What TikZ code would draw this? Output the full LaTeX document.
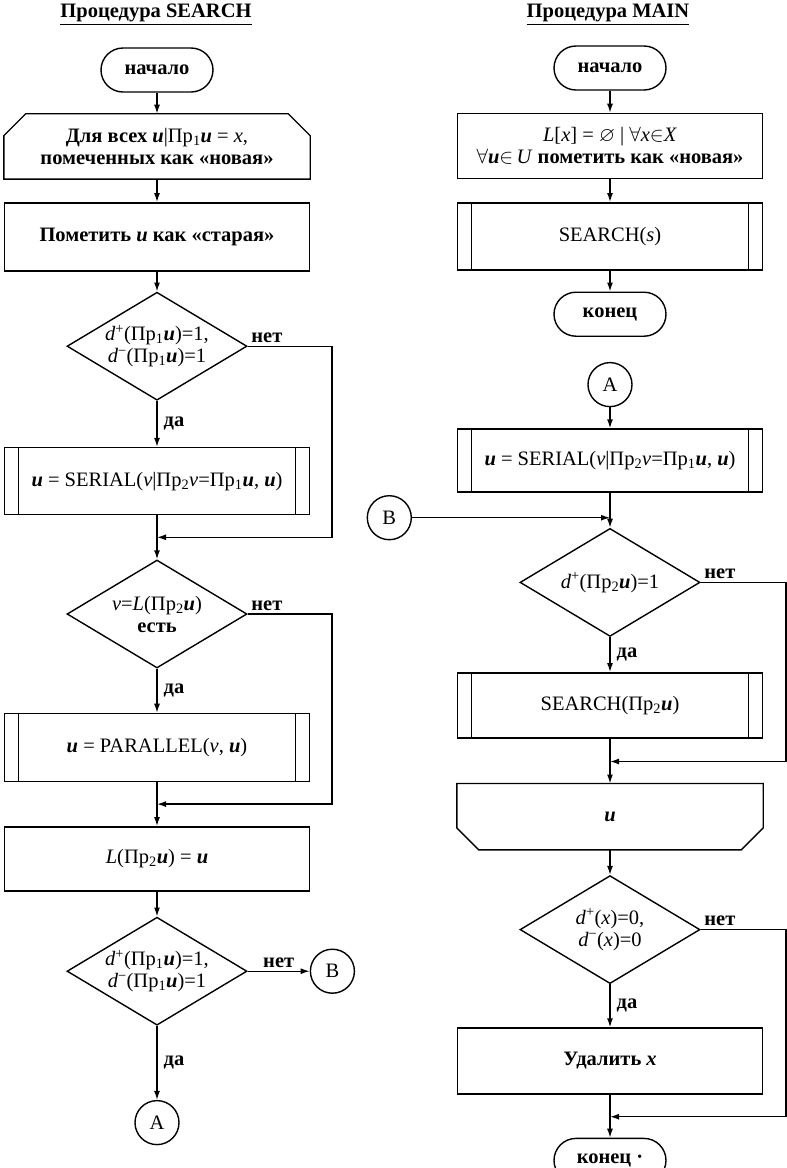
\documentclass[tikz,border=0pt]{standalone}
\usepackage{fontspec}
\setmainfont{Liberation Serif}
\usepackage{amssymb}
\usetikzlibrary{positioning,shapes.geometric,arrows.meta}
\newcommand{\vu}{\textbf{\textit{u}}}
\newcommand{\pr}[1]{Пр\textsubscript{#1}}

\begin{document}
\begin{tikzpicture}[x=1pt,y=-1pt,line width=1.4pt,
font=\fontsize{20.5}{22}\selectfont,
box/.style={draw,rectangle,minimum width=305pt,align=center,inner sep=0pt},
sub/.style={box,path picture={\draw ([xshift=14pt]path picture bounding box.north west) -- ([xshift=14pt]path picture bounding box.south west)
 ([xshift=-14pt]path picture bounding box.north east) -- ([xshift=-14pt]path picture bounding box.south east);}},
term/.style={draw,rectangle,rounded corners=22pt,minimum width=112pt,minimum height=44pt,font=\fontsize{20.5}{22}\selectfont\bfseries},
cond/.style={draw,diamond,aspect=1.67,minimum width=180pt,minimum height=108pt,inner sep=0pt,align=center},
conn/.style={draw,circle,minimum size=44pt,inner sep=0pt},
lbl/.style={font=\fontsize{20.5}{22}\selectfont\bfseries,inner sep=3pt},
arr/.style={-{Latex[length=9pt,width=6pt]}}]
\useasboundingbox (0,0) rectangle (787,1168);
\node[font=\fontsize{20.5}{22}\selectfont\bfseries] (t1) at (156,15) {\underline{Процедура SEARCH}};
\node[term] (s0) at (157,70) {начало};
\node[box,draw=none,minimum height=64pt,below=21pt of s0] (s1) {\textbf{Для всех} \vu|\pr{1}\vu\ = \textit{x},\\ \textbf{помеченных как «новая»}};
\node[box,minimum height=68pt,below=23pt of s1] (s2) {\textbf{Пометить} \vu\ \textbf{как «старая»}};
\node[cond,below=20pt of s2] (s3) {\textit{d}\textsuperscript{+}(\pr{1}\vu)=1,\\ \textit{d}\textsuperscript{−}(\pr{1}\vu)=1};
\node[sub,minimum height=67pt,below=46pt of s3] (s4) {\vu\ = SERIAL(\textit{v}|\pr{2}\textit{v}=\pr{1}\vu, \vu)};
\coordinate[below=22pt of s4] (j1);
\coordinate[right=175pt of j1] (e1);
\node[cond,below=44pt of s4] (s5) {\textit{v}=\textit{L}(\pr{2}\vu)\\ \textbf{есть}};
\node[sub,minimum height=68pt,below=44pt of s5] (s6) {\vu\ = PARALLEL(\textit{v}, \vu)};
\coordinate[below=22pt of s6] (j2);
\coordinate[right=175pt of j2] (e2);
\node[box,minimum height=64pt,below=44pt of s6] (s7) {\textit{L}(\pr{2}\vu) = \vu};
\node[cond,below=25pt of s7] (s8) {\textit{d}\textsuperscript{+}(\pr{1}\vu)=1,\\ \textit{d}\textsuperscript{−}(\pr{1}\vu)=1};
\node[conn,below=74pt of s8] (la) {A};
\node[conn,right=62pt of s8] (lb) {B};
\node[font=\fontsize{20.5}{22}\selectfont\bfseries] (t2) at (608,15) {\underline{Процедура MAIN}};
\node[term] (m0) at (610,68) {начало};
\node[box,minimum height=65pt,below=22pt of m0] (m1) {\textit{L}[\textit{x}] = $\varnothing$ | $\forall$\textit{x}$\in$\textit{X}\\ $\forall$\vu$\in$\,\textit{U} \textbf{пометить как «новая»}};
\node[sub,minimum height=67pt,below=23pt of m1] (m2) {SEARCH(\textit{s})};
\node[term,below=21pt of m2] (m3) {конец};
\node[conn,below=25pt of m3] (ra) {A};
\node[sub,minimum height=63pt,below=21pt of ra] (m4) {\vu\ = SERIAL(\textit{v}|\pr{2}\textit{v}=\pr{1}\vu, \vu)};
\coordinate[below=25pt of m4] (j3);
\node[conn,left=198pt of j3] (rb) {B};
\node[cond,below=35pt of m4] (m5) {\textit{d}\textsuperscript{+}(\pr{2}\vu)=1};
\node[sub,minimum height=65pt,below=35pt of m5] (m6) {SEARCH(\pr{2}\vu)};
\coordinate[below=23pt of m6] (j4);
\coordinate[right=176pt of j4] (e3);
\node[box,draw=none,minimum height=65pt,below=45pt of m6] (m7) {\vu};
\node[cond,below=25pt of m7] (m8) {\textit{d}\textsuperscript{+}(\textit{x})=0,\\ \textit{d}\textsuperscript{−}(\textit{x})=0};
\node[box,minimum height=66pt,below=43pt of m8] (m9) {\textbf{Удалить \textit{x}}};
\coordinate[below=22pt of m9] (j5);
\coordinate[right=176pt of j5] (e4);
\node[term,below=43pt of m9] (m10) {конец ·};
\draw (s1.south west) -- ([yshift=-22pt]s1.north west) -- ([xshift=22pt]s1.north west) -- ([xshift=-22pt]s1.north east)
 -- ([yshift=-22pt]s1.north east) -- (s1.south east) -- cycle;
\draw (m7.north west) -- (m7.north east) -- ([yshift=22pt]m7.south east) -- ([xshift=-22pt]m7.south east)
 -- ([xshift=22pt]m7.south west) -- ([yshift=22pt]m7.south west) -- cycle;
\foreach \a/\b in {s0/s1,s1/s2,s2/s3,s4/s5,s6/s7,s7/s8,m0/m1,m1/m2,m2/m3,ra/m4,m4/m5,m6/m7,m7/m8,m9/m10}
 \draw[arr] (\a) -- (\b);
\foreach \a/\b in {s3/s4,s5/s6,s8/la,m5/m6,m8/m9}
 \draw[arr] (\a) -- node[lbl,right,xshift=3pt]{да} (\b);
\foreach \a/\e/\j in {s3/e1/j1,s5/e2/j2,m5/e3/j4,m8/e4/j5}
 {\draw[arr] (\a.east) -| (\e) -- (\j);
 \node[lbl,above right] at (\a.east) {нет};}
\draw[arr] (s8) -- node[lbl,above]{нет} (lb);
\draw[arr] (rb) -- (j3);
\end{tikzpicture}
\end{document}
